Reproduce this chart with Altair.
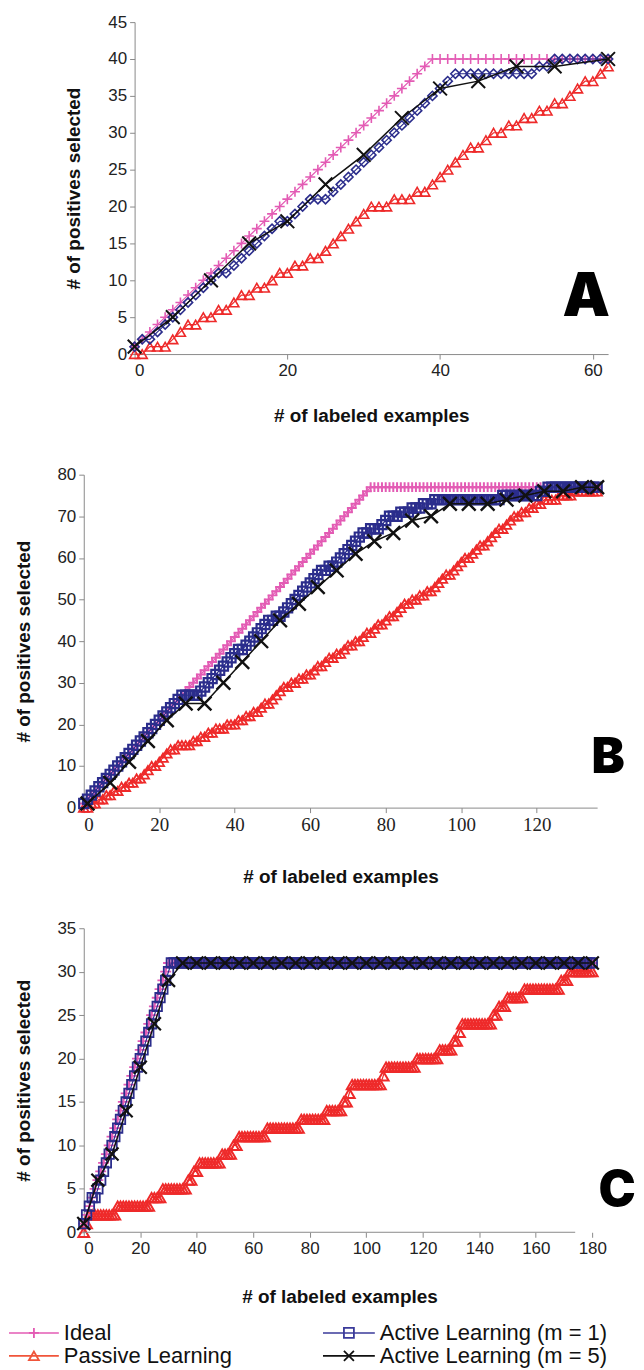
import altair as alt
import pandas as pd

# ---------------- Panel A data ----------------
A_IDEAL = [1, 2, 3, 4, 5, 6, 7, 8, 9, 10, 11, 12, 13, 14, 15, 16, 17, 18, 19, 20,
           21, 22, 23, 24, 25, 26, 27, 28, 29, 30, 31, 32, 33, 34, 35, 36, 37, 38, 39, 40,
           40, 40, 40, 40, 40, 40, 40, 40, 40, 40, 40, 40, 40, 40, 40, 40, 40, 40, 40, 40,
           40, 40, 40]
A_PASSIVE = [0, 0, 1, 1, 1, 2, 3, 4, 4, 5, 5, 6, 6, 7, 8, 8, 9, 9, 10, 11,
             11, 12, 12, 13, 13, 14, 15, 16, 17, 18, 19, 20, 20, 20, 21, 21, 21, 22, 22, 23,
             24, 25, 26, 27, 28, 28, 29, 30, 30, 31, 31, 32, 32, 33, 33, 34, 34, 35, 36, 37,
             37, 38, 39]
A_ACTIVE1 = [1, 2, 2, 3, 4, 5, 6, 7, 8, 9, 10, 11, 11, 12, 13, 14, 15, 16, 17, 18,
             18, 19, 20, 21, 21, 21, 22, 23, 24, 25, 26, 27, 28, 29, 30, 31, 32, 33, 34, 35,
             36, 37, 38, 38, 38, 38, 38, 38, 38, 38, 38, 38, 38, 39, 39, 40, 40, 40, 40, 40,
             40, 40, 40]
A_M5_X = [0, 5, 10, 15, 20, 25, 30, 35, 40, 45, 50, 55, 62]
A_ACTIVE5 = [1, 5, 10, 15, 18, 23, 27, 32, 36, 37, 39, 39, 40]

# ---------------- Panel B data ----------------
B_IDEAL = [1, 2, 3, 4, 5, 6, 7, 8, 9, 10, 11, 12, 13, 14, 15, 16, 17, 18, 19, 20,
           21, 22, 23, 24, 25, 26, 27, 28, 29, 30, 31, 32, 33, 34, 35, 36, 37, 38, 39, 40,
           41, 42, 43, 44, 45, 46, 47, 48, 49, 50, 51, 52, 53, 54, 55, 56, 57, 58, 59, 60,
           61, 62, 63, 64, 65, 66, 67, 68, 69, 70, 71, 72, 73, 74, 75, 76, 77, 77, 77, 77,
           77, 77, 77, 77, 77, 77, 77, 77, 77, 77, 77, 77, 77, 77, 77, 77, 77, 77, 77, 77,
           77, 77, 77, 77, 77, 77, 77, 77, 77, 77, 77, 77, 77, 77, 77, 77, 77, 77, 77, 77,
           77, 77, 77, 77, 77, 77, 77, 77, 77, 77, 77, 77, 77, 77, 77, 77, 77]
B_PASSIVE = [0, 0, 1, 1, 2, 2, 3, 3, 4, 4, 5, 5, 6, 6, 7, 7, 8, 9, 10, 10,
             11, 12, 13, 14, 14, 15, 15, 15, 15, 16, 16, 17, 17, 18, 18, 19, 19, 19, 20, 20,
             20, 21, 21, 22, 22, 23, 23, 24, 25, 25, 26, 27, 28, 29, 29, 30, 30, 31, 31, 32,
             32, 33, 34, 34, 35, 36, 36, 37, 37, 38, 39, 39, 40, 40, 41, 42, 42, 43, 44, 44,
             45, 46, 46, 47, 48, 49, 49, 50, 50, 51, 51, 52, 52, 53, 54, 55, 56, 56, 57, 58,
             59, 60, 60, 61, 62, 63, 63, 64, 65, 66, 67, 67, 68, 69, 70, 70, 71, 71, 72, 72,
             73, 73, 74, 74, 74, 74, 75, 75, 75, 75, 76, 76, 76, 76, 76, 76, 76]
B_ACTIVE1 = [1, 2, 3, 4, 5, 6, 7, 8, 9, 10, 11, 12, 13, 14, 15, 16, 17, 18, 19, 20,
             21, 22, 23, 24, 25, 26, 27, 27, 27, 27, 27, 28, 29, 30, 31, 32, 33, 34, 35, 36,
             37, 38, 38, 39, 40, 41, 42, 43, 44, 45, 45, 46, 46, 47, 48, 49, 50, 51, 52, 53,
             54, 55, 56, 57, 57, 58, 58, 59, 60, 61, 62, 63, 64, 65, 66, 66, 67, 67, 67, 68,
             69, 70, 70, 70, 71, 71, 71, 72, 72, 72, 73, 73, 73, 74, 74, 74, 74, 74, 74, 74,
             74, 74, 74, 74, 74, 74, 74, 74, 74, 74, 74, 75, 75, 75, 75, 75, 75, 75, 75, 75,
             75, 76, 76, 77, 77, 77, 77, 77, 77, 77, 77, 77, 77, 77, 77, 77, 77]
B_M5_X = [1, 7, 12, 17, 22, 27, 32, 37, 42, 47, 52, 57, 62, 67, 72, 77, 82, 87, 92, 97,
          102, 107, 112, 117, 122, 127, 132, 136]
B_ACTIVE5 = [1, 6, 11, 16, 21, 25, 25, 30, 35, 40, 45, 49, 53, 57, 61, 64, 66, 69, 70, 73,
             73, 73, 74, 75, 76, 76, 77, 77]

# ---------------- Panel C data ----------------
C_IDEAL = [1, 2, 3, 4, 5, 6, 7, 8, 9, 10,
           11, 12, 13, 14, 15, 16, 17, 18, 19, 20,
           21, 22, 23, 24, 25, 26, 27, 28, 29, 30,
           31, 31, 31, 31, 31, 31, 31, 31, 31, 31,
           31, 31, 31, 31, 31, 31, 31, 31, 31, 31,
           31, 31, 31, 31, 31, 31, 31, 31, 31, 31,
           31, 31, 31, 31, 31, 31, 31, 31, 31, 31,
           31, 31, 31, 31, 31, 31, 31, 31, 31, 31,
           31, 31, 31, 31, 31, 31, 31, 31, 31, 31,
           31, 31, 31, 31, 31, 31, 31, 31, 31, 31,
           31, 31, 31, 31, 31, 31, 31, 31, 31, 31,
           31, 31, 31, 31, 31, 31, 31, 31, 31, 31,
           31, 31, 31, 31, 31, 31, 31, 31, 31, 31,
           31, 31, 31, 31, 31, 31, 31, 31, 31, 31,
           31, 31, 31, 31, 31, 31, 31, 31, 31, 31,
           31, 31, 31, 31, 31, 31, 31, 31, 31, 31,
           31, 31, 31, 31, 31, 31, 31, 31, 31, 31,
           31, 31, 31, 31, 31, 31, 31, 31, 31, 31,
           31]
C_PASSIVE = [0, 1, 2, 2, 2, 2, 2, 2, 2, 2,
             2, 2, 3, 3, 3, 3, 3, 3, 3, 3,
             3, 3, 3, 3, 4, 4, 4, 4, 5, 5,
             5, 5, 5, 5, 5, 5, 5, 6, 6, 7,
             7, 8, 8, 8, 8, 8, 8, 8, 8, 9,
             9, 9, 9, 10, 10, 11, 11, 11, 11, 11,
             11, 11, 11, 11, 11, 12, 12, 12, 12, 12,
             12, 12, 12, 12, 12, 12, 12, 13, 13, 13,
             13, 13, 13, 13, 13, 13, 14, 14, 14, 14,
             14, 14, 15, 15, 16, 17, 17, 17, 17, 17,
             17, 17, 17, 17, 17, 17, 18, 19, 19, 19,
             19, 19, 19, 19, 19, 19, 19, 19, 20, 20,
             20, 20, 20, 20, 20, 20, 21, 21, 21, 21,
             21, 22, 22, 23, 24, 24, 24, 24, 24, 24,
             24, 24, 24, 24, 24, 25, 25, 26, 26, 26,
             27, 27, 27, 27, 27, 27, 28, 28, 28, 28,
             28, 28, 28, 28, 28, 28, 28, 28, 28, 29,
             29, 29, 30, 30, 30, 30, 30, 30, 30, 30,
             30]
C_ACTIVE1 = [1, 2, 3, 4, 4, 5, 6, 7, 8, 9,
             10, 11, 12, 13, 14, 15, 16, 17, 18, 19,
             20, 21, 22, 23, 24, 25, 26, 27, 28, 29,
             30, 31, 31, 31, 31, 31, 31, 31, 31, 31,
             31, 31, 31, 31, 31, 31, 31, 31, 31, 31,
             31, 31, 31, 31, 31, 31, 31, 31, 31, 31,
             31, 31, 31, 31, 31, 31, 31, 31, 31, 31,
             31, 31, 31, 31, 31, 31, 31, 31, 31, 31,
             31, 31, 31, 31, 31, 31, 31, 31, 31, 31,
             31, 31, 31, 31, 31, 31, 31, 31, 31, 31,
             31, 31, 31, 31, 31, 31, 31, 31, 31, 31,
             31, 31, 31, 31, 31, 31, 31, 31, 31, 31,
             31, 31, 31, 31, 31, 31, 31, 31, 31, 31,
             31, 31, 31, 31, 31, 31, 31, 31, 31, 31,
             31, 31, 31, 31, 31, 31, 31, 31, 31, 31,
             31, 31, 31, 31, 31, 31, 31, 31, 31, 31,
             31, 31, 31, 31, 31, 31, 31, 31, 31, 31,
             31, 31, 31, 31, 31, 31, 31, 31, 31, 31,
             31]
C_M5_X = [0, 5, 10, 15, 20, 25, 30, 35, 40, 45, 50, 55, 60, 65, 70, 75, 80, 85, 90, 95,
          100, 105, 110, 115, 120, 125, 130, 135, 140, 145, 150, 155, 160, 165, 170, 175, 180]
C_ACTIVE5 = [1, 6, 9, 14, 19, 24, 29, 31, 31, 31, 31, 31, 31, 31, 31, 31, 31, 31, 31, 31,
             31, 31, 31, 31, 31, 31, 31, 31, 31, 31, 31, 31, 31, 31, 31, 31, 31]

LEGEND_LABELS = ["Ideal", "Passive Learning", "Active Learning (m = 1)", "Active Learning (m = 5)"]
X_TITLE = "# of labeled examples"
Y_TITLE = "# of positives selected"

# ---------------- styles ----------------
PINK = "#E35BB4"
RED = "#EE2A2A"
NAVY = "#2B2D8C"
BLACK = "#111111"
PLUS = "M-1,0L1,0M0,-1L0,1"
XMARK = "M-1,-1L1,1M-1,1L1,-1"
SANS = "Liberation Sans"
LETTER_FONT = "Inter, Roboto, Liberation Sans"

dummy = pd.DataFrame({"k": [0]})


def enc_xy(xdom, ydom, xvals, yvals, x_axis_kw, y_axis_kw, xrange=None):
    sc = dict(domain=xdom, nice=False, zero=False)
    if xrange is not None:
        sc["range"] = xrange
    x = alt.X("x:Q", scale=alt.Scale(**sc),
              axis=alt.Axis(values=xvals, title=X_TITLE, **x_axis_kw))
    y = alt.Y("y:Q", scale=alt.Scale(domain=ydom, nice=False, zero=False),
              axis=alt.Axis(values=yvals, title=Y_TITLE, **y_axis_kw))
    return x, y


def series(xs, ys, color, shape, size, x, y, sw=1.5, lw=1.2):
    if xs is None:
        xs = list(range(len(ys)))
    df = pd.DataFrame({"x": xs, "y": ys})
    base = alt.Chart(df)
    line = base.mark_line(color=color, strokeWidth=lw).encode(x=x, y=y)
    pts = base.mark_point(shape=shape, size=size, color=color, filled=False,
                          strokeWidth=sw, opacity=1).encode(x=x, y=y)
    return [line, pts]


def letter(txt, px, py, size):
    return alt.Chart(dummy).mark_text(
        text=txt, font=LETTER_FONT, fontSize=size, fontWeight=900, color="black",
        align="center", baseline="alphabetic").encode(x=alt.value(px), y=alt.value(py))


# ---------------- Panel A (plot shifted 51px right inside a wider view) ----------------
SHIFT = 51
xa, ya = enc_xy([0, 62], [0, 45], [0, 20, 40, 60], list(range(0, 46, 5)),
                dict(titlePadding=29), dict(titlePadding=24, offset=-SHIFT),
                xrange=[SHIFT, SHIFT + 475])
layers_a = []
layers_a += series(None, A_PASSIVE, RED, "triangle-up", 100, xa, ya, sw=1.6)
layers_a += series(None, A_IDEAL, PINK, PLUS, 100, xa, ya, sw=1.6)
layers_a += series(None, A_ACTIVE1, NAVY, "diamond", 85, xa, ya, sw=1.6)
layers_a += series(A_M5_X, A_ACTIVE5, BLACK, XMARK, 190, xa, ya, sw=2, lw=1.5)
layers_a.append(letter("A", SHIFT + 453, 295, 60))
panel_a = alt.layer(*layers_a).properties(width=SHIFT + 475, height=333)

# ---------------- Panel B ----------------
xb, yb = enc_xy([0, 136], [0, 80], list(range(0, 121, 20)), list(range(0, 81, 10)),
                dict(titlePadding=33, labelFont="Liberation Serif", labelFontSize=19),
                dict(titlePadding=24))
layers_b = []
layers_b += series(None, B_PASSIVE, RED, "triangle-up", 95, xb, yb, sw=1.8)
layers_b += series(None, B_IDEAL, PINK, PLUS, 95, xb, yb, sw=2)
layers_b += series(None, B_ACTIVE1, NAVY, "square", 85, xb, yb, sw=2.2)
layers_b += series(B_M5_X, B_ACTIVE5, BLACK, XMARK, 190, xb, yb, sw=2.4, lw=1.5)
layers_b.append(letter("B", 526, 299, 50))
panel_b = alt.layer(*layers_b).properties(width=515, height=334)

# ---------------- Panel C ----------------
xc, yc = enc_xy([0, 181], [0, 35], list(range(0, 181, 20)), list(range(0, 36, 5)),
                dict(titlePadding=31, domain=False), dict(titlePadding=24))
layers_c = []
layers_c += series(None, C_PASSIVE, RED, "triangle-up", 115, xc, yc, sw=2)
layers_c += series(None, C_IDEAL, PINK, PLUS, 120, xc, yc, sw=1.8)
layers_c += series(None, C_ACTIVE1, NAVY, "square", 90, xc, yc, sw=1.8)
layers_c += series(C_M5_X, C_ACTIVE5, BLACK, XMARK, 170, xc, yc, sw=2.2, lw=1.5)
# x axis line (ends short of the last label, as in the original)
layers_c.append(alt.Chart(dummy).mark_rule(color="#8a8a8a", strokeWidth=1).encode(
    x=alt.value(0), x2=alt.value(493), y=alt.value(305)))
layers_c.append(letter("C", 535, 279, 50))

# legend drawn under panel C
ROW1, ROW2 = 406, 429
leg_items = [
    (LEGEND_LABELS[0], PINK, PLUS, -75, -25, -50, -20, ROW1),
    (LEGEND_LABELS[1], "#F0553A", "triangle-up", -75, -25, -50, -20, ROW2),
    (LEGEND_LABELS[2], "#3A3A9A", "square", 240, 292, 266, 297, ROW1),
    (LEGEND_LABELS[3], BLACK, XMARK, 240, 292, 266, 297, ROW2),
]
for lab, col, shp, x0, x1, xm, xt, yy in leg_items:
    layers_c.append(alt.Chart(dummy).mark_rule(color=col, strokeWidth=1.6).encode(
        x=alt.value(x0), x2=alt.value(x1), y=alt.value(yy)))
    layers_c.append(alt.Chart(dummy).mark_point(
        shape=shp, size=100, color=col, filled=False, strokeWidth=1.8, opacity=1).encode(
        x=alt.value(xm), y=alt.value(yy)))
    layers_c.append(alt.Chart(dummy).mark_text(
        text=lab, font=SANS, fontSize=22, color="#111", align="left", baseline="middle").encode(
        x=alt.value(xt), y=alt.value(yy)))
panel_c = alt.layer(*layers_c).properties(width=513, height=305)

chart = alt.vconcat(panel_a, panel_b, panel_c, spacing=121, bounds="flush").properties(
    padding={"left": 0, "top": 3, "right": 0, "bottom": 2}
).configure_view(stroke=None).configure_axis(
    grid=False, domainColor="#8a8a8a", tickColor="#8a8a8a", tickSize=5,
    labelFont=SANS, labelFontSize=17, labelColor="#222", labelPadding=3,
    titleFont=SANS, titleFontSize=19, titleFontWeight="bold", titleColor="#111"
)

chart.save("out.html", embed_options={"renderer": "svg", "actions": False})
